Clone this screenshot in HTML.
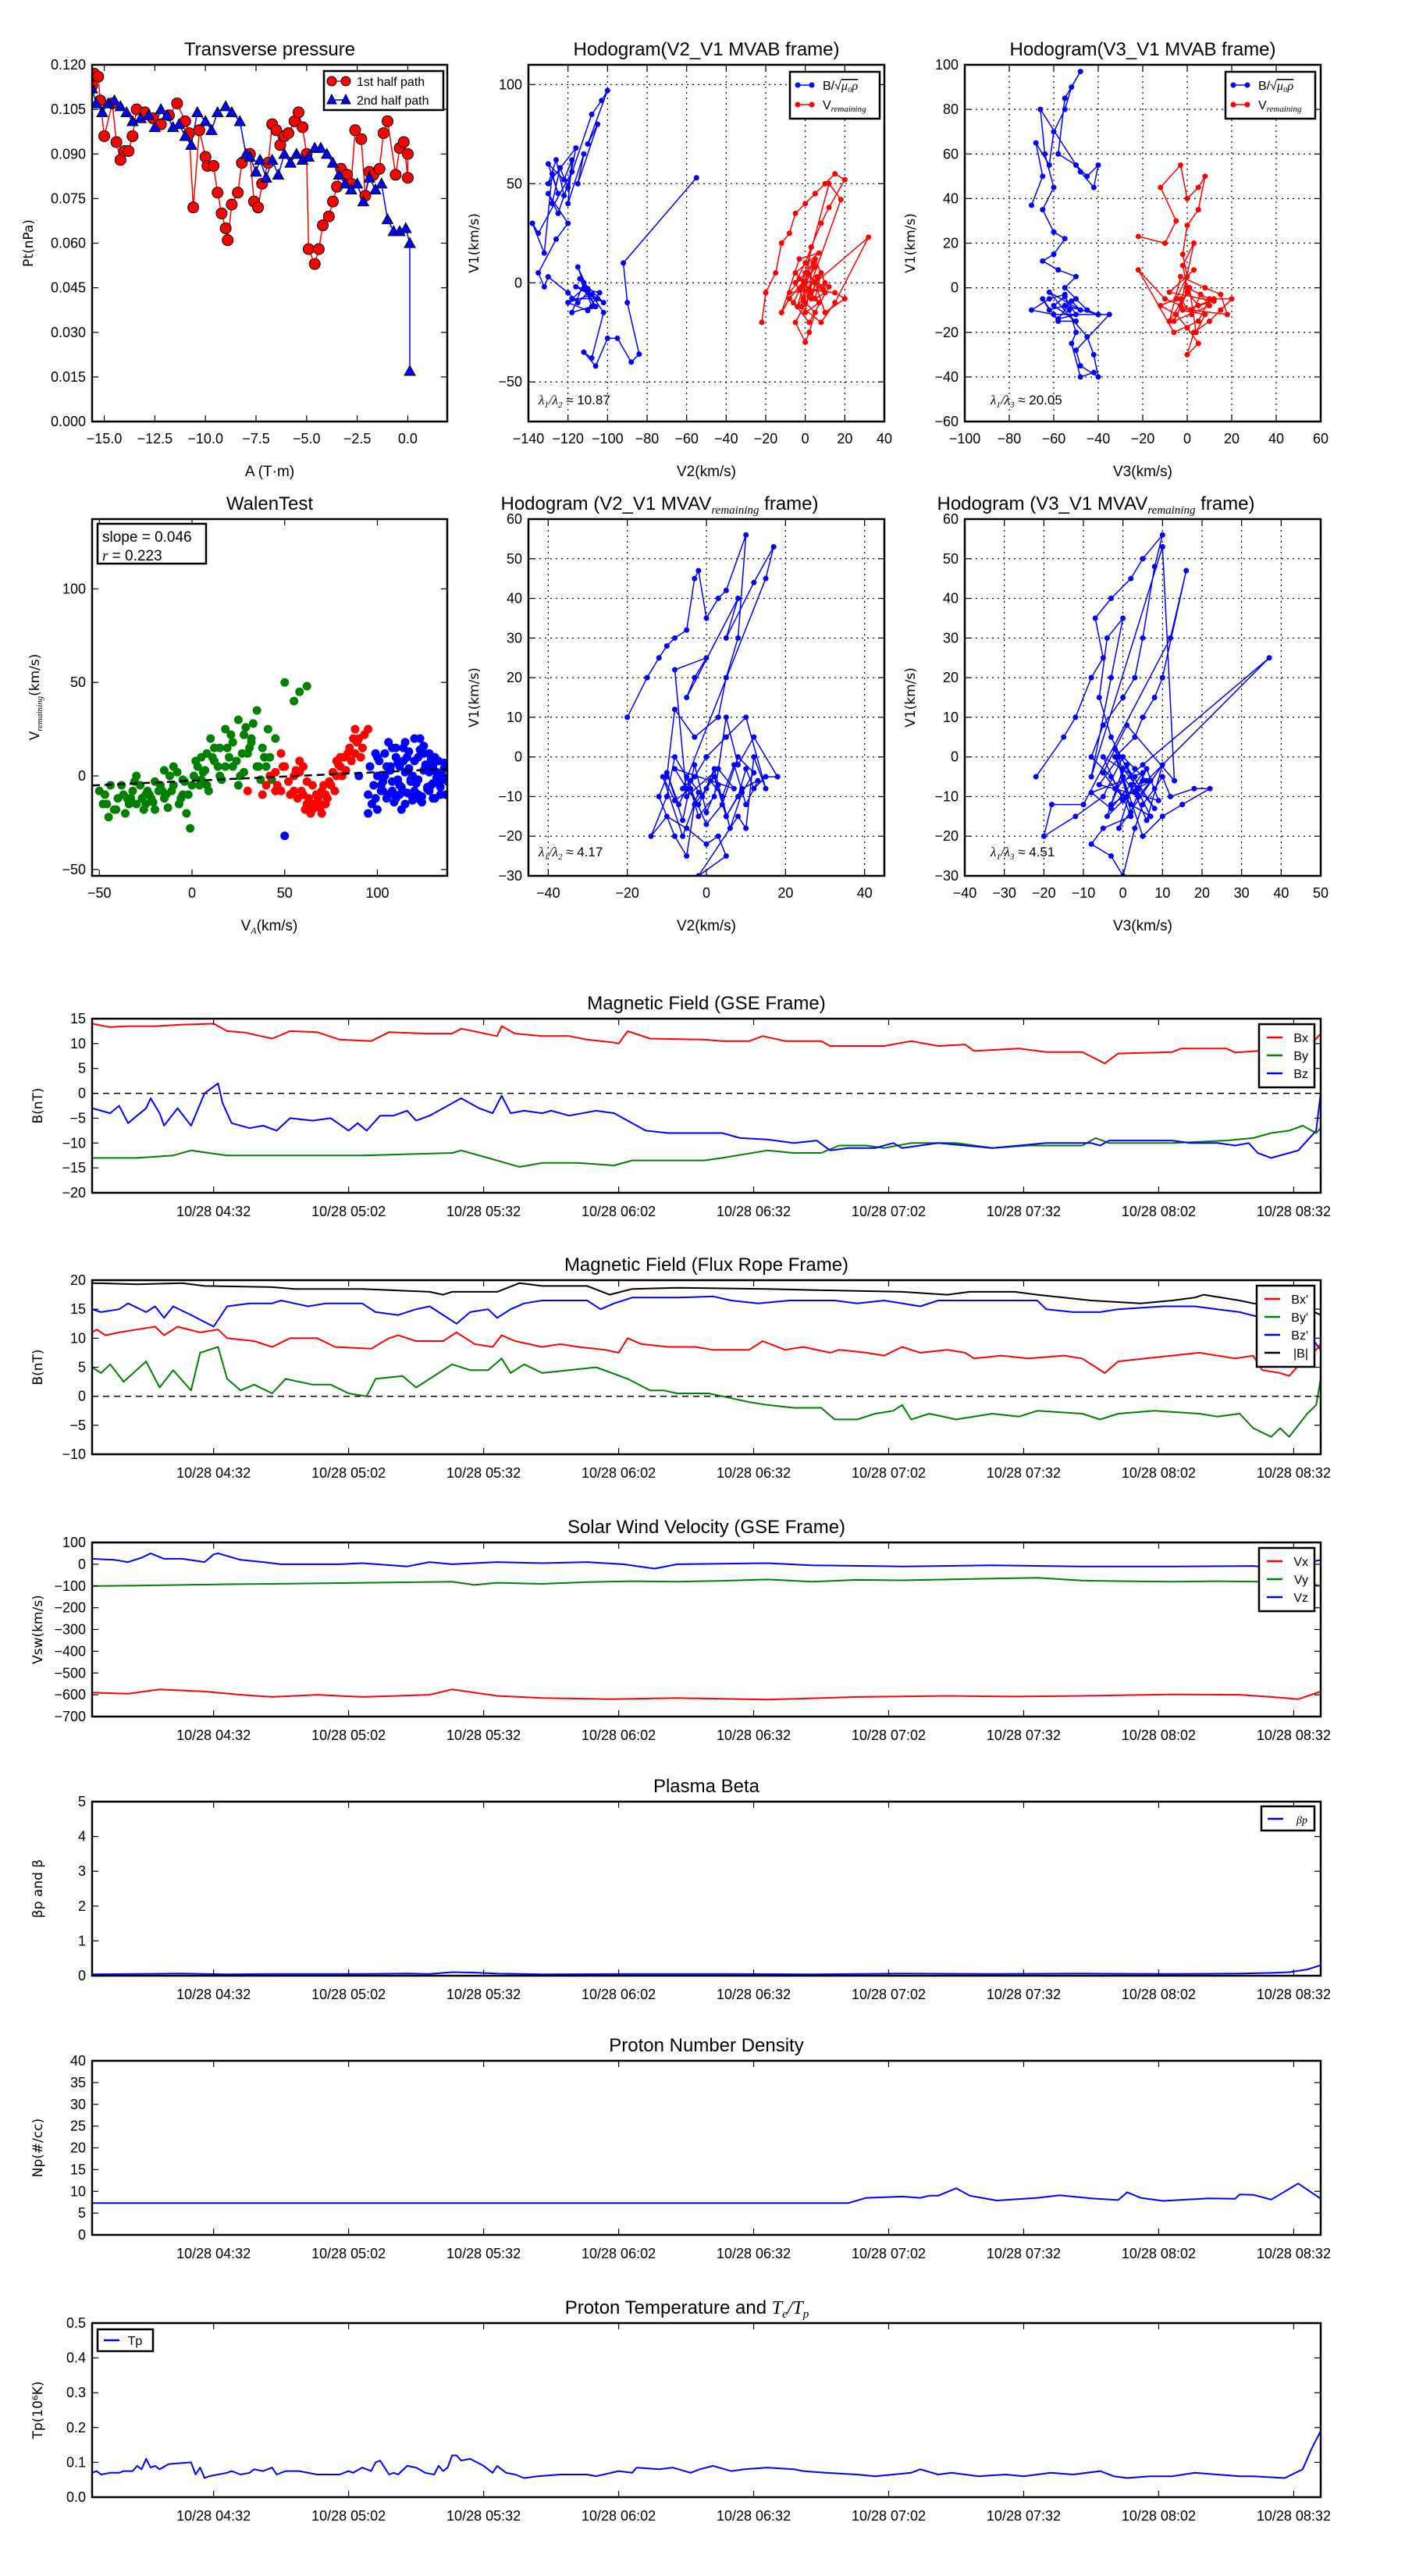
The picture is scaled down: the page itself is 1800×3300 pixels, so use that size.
<!DOCTYPE html>
<html><head><meta charset="utf-8"><title>Flux rope analysis</title>
<style>
html,body{margin:0;padding:0;background:#fff;}
svg{display:block;font-family:"Liberation Sans",sans-serif;}
</style></head>
<body>
<svg id="fig" width="1800" height="3300" viewBox="0 0 1800 3300" xmlns="http://www.w3.org/2000/svg">
<rect x="0" y="0" width="1800" height="3300" fill="#fff"/>
</svg>
<script>
// ---------- DATA ----------
const ptRedA=[-15.6,-15.5,-15.3,-15.2,-15.0,-14.6,-14.4,-14.2,-14.0,-13.8,-13.6,-13.4,-13.0,-12.6,-12.2,-11.8,-11.4,-11.0,-10.8,-10.6,-10.3,-10.0,-9.9,-9.6,-9.4,-9.2,-9.0,-8.9,-8.7,-8.4,-8.2,-7.8,-7.6,-7.4,-7.2,-6.9,-6.7,-6.5,-6.3,-6.1,-5.9,-5.6,-5.4,-5.2,-5.0,-4.9,-4.6,-4.4,-4.2,-3.9,-3.7,-3.5,-3.3,-3.0,-2.8,-2.6,-2.3,-2.1,-1.9,-1.7,-1.4,-1.2,-1.0,-0.6,-0.4,-0.2,0.0,0.0];
const ptRedP=[0.113,0.117,0.116,0.108,0.096,0.107,0.094,0.088,0.091,0.091,0.096,0.105,0.104,0.102,0.100,0.103,0.107,0.101,0.097,0.072,0.098,0.089,0.086,0.086,0.077,0.070,0.065,0.061,0.073,0.077,0.087,0.090,0.074,0.072,0.080,0.087,0.100,0.098,0.093,0.096,0.097,0.101,0.104,0.099,0.090,0.058,0.053,0.058,0.066,0.069,0.074,0.079,0.085,0.083,0.080,0.098,0.095,0.076,0.084,0.083,0.085,0.097,0.101,0.083,0.092,0.094,0.082,0.090];
const ptBlueA=[-15.6,-15.4,-15.1,-14.8,-14.5,-14.2,-13.9,-13.6,-13.2,-12.8,-12.5,-12.2,-11.9,-11.6,-11.3,-11.0,-10.7,-10.4,-10.0,-9.7,-9.4,-9.0,-8.7,-8.3,-8.0,-7.8,-7.5,-7.3,-7.0,-6.7,-6.4,-6.1,-5.8,-5.5,-5.2,-4.9,-4.6,-4.3,-4.0,-3.7,-3.4,-3.1,-2.8,-2.5,-2.2,-1.9,-1.6,-1.3,-1.0,-0.7,-0.4,-0.1,0.1,0.1];
const ptBlueP=[0.112,0.107,0.104,0.107,0.108,0.106,0.104,0.101,0.102,0.103,0.099,0.105,0.103,0.099,0.100,0.096,0.093,0.104,0.101,0.098,0.104,0.106,0.104,0.101,0.090,0.089,0.084,0.088,0.082,0.088,0.083,0.090,0.087,0.090,0.088,0.089,0.092,0.092,0.090,0.087,0.083,0.080,0.078,0.080,0.074,0.082,0.078,0.080,0.068,0.064,0.064,0.065,0.060,0.017];

const h1BV2=[-128,-124,-120,-116,-130,-126,-122,-118,-135,-138,-132,-128,-125,-130,-122,-118,-120,-112,-115,-105,-110,-100,-103,-108,-125,-130,-120,-126,-135,-132,-130,-120,-115,-110,-105,-118,-112,-106,-114,-108,-120,-110,-104,-116,-102,-112,-118,-108,-115,-110,-102,-108,-112,-106,-100,-95,-88,-84,-90,-92,-55];
const h1BV1=[40,58,48,68,50,62,44,56,25,30,15,55,45,60,52,62,40,65,50,80,70,97,92,85,35,45,30,22,5,-2,3,-5,-10,-5,-8,-8,-3,-12,2,-6,-10,-14,-5,-2,-10,0,-15,-12,8,-3,-15,-38,-35,-42,-28,-28,-40,-36,-10,10,53];
const h1RV2=[-22,-20,-15,-12,-8,-5,0,5,10,15,20,12,8,3,0,-5,0,5,2,0,-5,3,8,5,10,0,-3,15,20,10,5,32,15,8,-2,0,5,-8,-12,-3,7,-5,2,18,12,-2,3,6,-4,1,9,-8,4,0,7,-3,12,2,-6,5,10,-1,3];
const h1RV1=[-20,-5,5,20,25,35,40,45,50,55,52,38,30,18,10,0,-10,-15,-25,-30,-20,-5,5,-8,-5,5,-3,-5,-8,-15,0,23,-10,-20,-12,0,8,-8,-15,12,15,5,-3,42,50,-2,-8,3,-12,5,-3,-5,10,-15,-10,2,-2,-20,-10,12,0,-8,18];

const h2BV3=[-70,-65,-68,-62,-60,-55,-52,-48,-55,-58,-50,-45,-40,-42,-48,-66,-64,-60,-65,-60,-55,-60,-65,-58,-50,-55,-50,-45,-40,-55,-62,-65,-58,-50,-60,-55,-50,-58,-52,-48,-62,-45,-42,-40,-48,-50,-35,-60,-70,-62,-55,-53,-50,-52,-48,-42];
const h2BV1=[37,50,65,55,70,80,90,97,85,60,55,50,55,45,52,80,60,45,35,25,22,15,12,8,5,0,-5,-10,-12,-8,-10,-5,-15,-15,-8,-4,-12,-14,-6,-10,-2,-22,-30,-40,-35,-28,-12,-12,-10,-5,-3,-10,-20,-25,-40,-38];
const h2RV3=[-22,-10,-5,-12,-3,0,5,8,5,0,-2,0,-5,-12,-5,0,5,0,3,10,15,20,12,5,0,-8,-3,8,15,18,2,-10,-22,-6,5,10,0,-2,3,-3,-3,2,6,10,-6,1,4,8,-2,12,-8,3];
const h2RV1=[23,20,30,45,55,40,45,50,35,28,15,5,-5,-8,-12,-18,-25,-30,-20,-15,-10,-5,-5,-8,-2,-15,5,0,-3,-12,-10,-5,8,-20,-15,-5,0,10,20,-8,-5,-12,-3,-8,-15,0,-20,-12,-10,-6,-2,8];

const walGx=[-50,-48,-45,-40,-38,-35,-32,-30,-28,-25,-22,-20,-18,-15,-12,-10,-8,-5,-3,-1,0,3,5,8,10,12,15,18,20,22,25,28,30,32,35,38,40,42,45,50,55,58,62,-42,-30,-20,-10,5,15,25,35,28,18,8,-5,-15,-25,-47,-44,-41,-37,-34,-31,-27,-24,-21,-17,-14,-11,-7,-4,-2,1,4,7,9,11,14,16,19,21,24,27,29,31,33,36,39,41,43,-36,-26,-16,-6,2,12,22,32,-46,-33,-23,-13,6,26,37];
const walGy=[-8,-15,-22,-12,-5,-12,-8,-15,-5,-10,-12,-3,-8,-12,0,-5,2,-10,-20,-28,-5,5,-2,12,20,8,15,25,10,18,30,22,12,20,35,15,5,10,20,50,40,45,48,-18,0,-18,5,10,0,-5,5,2,5,-5,-2,3,-15,-10,-5,-18,-10,-15,-3,-12,-8,-14,-5,-10,-8,-15,-3,-10,0,-5,3,-8,10,5,-2,15,22,8,12,26,15,28,5,10,25,-2,-20,-18,-8,-12,8,15,5,18,-15,-12,-10,-17,2,0,-2];
const walRx=[40,45,48,50,52,55,58,60,62,65,68,70,72,75,78,80,82,85,88,90,92,95,88,60,57,65,70,48,55,78,83,30,38,45,42,46,49,53,56,59,61,63,64,66,67,69,71,73,74,76,77,79,81,84,86,87,89,91,93,58,62,68,72,80];
const walRy=[-5,2,-8,5,-3,0,8,-10,-15,-18,-12,-8,-15,-5,0,5,10,15,12,20,15,25,25,5,-12,-5,-20,12,-8,8,3,-8,-10,-8,0,-5,5,-10,3,-8,-18,-12,-20,-15,-10,-17,-5,-12,-3,2,-8,6,0,12,8,20,18,10,22,2,-3,-14,-10,10];
const walBx=[95,98,100,102,105,108,110,112,115,118,120,122,125,128,130,132,135,137,105,110,115,120,125,130,100,95,112,118,122,128,133,108,50,90,96,96,99,101,103,104,106,107,109,111,113,114,116,117,119,121,123,124,126,127,129,131,132,134,136,138,97,100,104,108,112,116,120,124,128,132,136,102,106,110,114,118,122,126,130,134,99,103,107,111,115,119,123,127,131,135,113,117,121,125,129];
const walBy=[-10,-5,0,-8,5,-3,10,-5,2,-10,8,-2,3,-8,5,-3,0,-10,-12,15,-15,20,12,-12,-18,-20,5,-2,10,2,8,-8,-32,0,5,5,-12,8,-3,12,-10,3,-14,7,-6,15,-9,4,-13,-4,14,-11,6,-7,9,-12,2,-6,4,-3,-15,10,0,15,-10,10,-8,-14,12,-1,7,-5,18,-12,8,-3,-10,5,-4,-10,12,-8,5,-2,18,0,20,-6,10,-2,-18,13,-12,16,-5];
const walSlope=0.046, walIntercept=-2.6;

const h4V2=[-20,-15,-12,-10,-8,-5,-3,-2,0,3,5,10,8,5,3,-3,-8,-10,-12,-8,-5,-3,0,2,5,8,10,12,15,18,12,8,5,2,-2,-5,-8,-10,-14,-10,-5,0,3,5,-2,8,10,12,15,10,5,0,-3,-6,15,17,12,5,8,-5,-3,0,-8,-5,3,7,-8,-5,-2,1,4,7,10,13,9,5,2,-1,-4,-7,-10,-6,-3,0,3,6,9,12,8,4,0,-4,-8,-11,-6,-2];
const h4V1=[10,20,25,28,30,32,45,47,35,40,42,56,30,20,10,5,12,-5,-10,-20,-25,-12,-8,-5,-15,-10,-3,-8,-5,-5,5,-2,10,-10,-15,-5,0,-10,-20,-15,-18,-22,-20,-25,-30,-15,-18,0,-8,10,5,0,-5,-8,45,53,44,30,40,15,20,25,22,-10,-3,-8,-3,-8,-12,-6,-10,-2,-12,-6,-8,-15,-3,-10,-6,-12,-4,-16,-2,-14,-7,-18,-9,-4,0,-12,-17,-8,-11,-5,-20,-9];
const h5V3=[-22,-15,-12,-8,-5,-7,-3,2,5,10,8,5,3,0,-5,-8,-3,0,2,-5,-8,-3,0,3,5,8,10,12,18,22,15,10,5,0,-2,3,5,8,10,16,12,-10,-18,-20,-12,-5,0,3,6,37,5,-2,2,7,-3,-6,-4,0,-3,-8,10,13,1,-5,-2,1,4,7,-3,0,3,6,9,-6,-1,2,5,-4,0,4,8,-2,1,5,-8,-3,2,6,10,-1,3,-5,0];
const h5V1=[-5,5,10,20,25,35,40,45,50,56,48,30,20,15,8,0,-5,-10,-15,-18,-22,-25,-30,-18,-12,-8,-5,-10,-8,-8,-12,-15,-20,-5,0,5,10,15,20,47,30,-12,-12,-20,-15,-10,0,-3,-6,25,-2,-8,-12,-15,5,15,30,35,20,-5,53,-6,8,-4,-8,-2,-10,-6,-12,-5,-9,-3,-11,-7,0,-14,-6,-15,-3,-8,-13,2,-10,-4,-9,-13,-7,-16,-2,-18,-5,0,-11];

// time series: minutes after 04:05
const timeTickLabels=["10/28 04:32","10/28 05:02","10/28 05:32","10/28 06:02","10/28 06:32","10/28 07:02","10/28 07:32","10/28 08:02","10/28 08:32"];
const timeTickMin=[27,57,87,117,147,177,207,237,267];
const bxT=[0,4,8,14,20,27,30,34,40,44,50,55,62,66,74,80,82,90,91,94,100,106,110,116,117,119,124,136,140,146,149,154,162,164,176,182,188,194,196,206,212,220,225,228,240,242,252,254,259,266,270,273];
const bxV=[14,13.3,13.5,13.5,13.8,14,12.5,12.2,11,12.5,12.3,10.8,10.5,12.3,12,12,13,11.5,13.5,12,11.5,11.5,10.8,10.2,10,12.5,11,10.8,10.5,10.5,11.5,10.5,10.5,9.5,9.5,10.5,9.5,9.8,8.5,9,8.3,8.3,6,8,8.3,9,9,8.2,8.5,8.8,9,12];
const byT=[0,10,18,22,30,60,80,82,88,95,100,108,116,120,136,140,150,156,162,166,172,176,182,192,200,208,220,223,226,240,252,258,262,266,269,272,273];
const byV=[-13,-13,-12.5,-11.5,-12.5,-12.5,-12,-11.5,-13,-14.8,-14,-14,-14.5,-13.5,-13.5,-13,-11.5,-12,-12,-10.5,-10.5,-11,-10,-10,-11,-10.5,-10.5,-9,-10,-10,-9.5,-9,-8,-7.5,-6.5,-8,-7];
const bzT=[0,4,6,8,12,13,15,16,19,22,25,28,29,31,35,38,41,44,49,53,57,59,61,64,67,70,72,75,78,82,86,89,91,93,96,100,102,106,112,116,119,123,128,132,140,144,150,156,161,164,168,174,178,180,188,194,200,206,212,222,224,226,240,244,250,254,257,259,262,266,268,272,273];
const bzV=[-3,-4,-2.5,-6,-3,-1,-4,-6.5,-3,-6.5,0,2,-2,-6,-7,-6.5,-7.5,-5,-5.5,-5,-7.5,-6,-7.5,-4.5,-4.5,-3.5,-5.5,-4.5,-3,-1,-3,-4,-0.5,-4,-3.5,-4,-3.5,-4.5,-3.5,-4,-5.5,-7.5,-8,-8,-8,-9,-9.3,-10,-9.5,-11.5,-11,-11,-10,-11,-10,-10.5,-11,-10.5,-10,-10,-10.5,-9.5,-9.5,-10,-10,-10.5,-10,-12,-13,-12,-11.5,-7.5,0];

const bmT=[0,10,20,25,40,45,60,75,78,80,90,95,100,110,115,120,130,150,160,180,190,195,205,210,222,233,240,245,247,255,258,268,273];
const bmV=[19.5,19.3,19.5,19,18.8,18.5,18.5,18,17.5,18,18,19.5,19,19,17.5,18.5,18.7,18.5,18.3,18,17.5,18,18,17.5,16.5,16,16.5,17,17.5,16.5,16,15.8,14];
const bzpT=[0,2,6,8,12,14,16,18,22,27,30,35,40,42,48,52,60,63,68,72,75,78,81,84,88,90,93,96,100,110,113,116,120,130,138,142,148,155,165,170,176,184,188,210,212,218,224,228,238,245,250,255,260,266,270,273];
const bzpV=[15,14.5,15,16,14.5,15.5,13.5,15.5,14,12,15.5,16,16,16.5,15.5,16,16,14.5,14,15,15.5,14,12.5,14.5,15,13.5,15,16,16.5,16.5,15,16,17,17,17.2,16.5,16,16.5,16.5,16,16.5,15.5,16.5,16.5,15,14.5,14.5,15,15.5,15.5,15,14.5,13.5,12,11,8];
const bxpT=[0,1,3,6,10,14,16,19,24,28,30,36,40,44,50,54,62,66,68,72,78,81,85,89,91,94,100,104,108,114,117,119,122,128,134,138,146,149,154,158,164,166,172,176,180,184,190,194,196,202,208,216,220,225,228,234,240,246,254,258,260,264,266,270,272,273];
const bxpV=[11,11.5,10.5,11,11.5,12,10.5,12,11,11.5,10,9.5,8.5,10,10,8.5,8.2,10,10.5,9.5,9.5,11,9,8.5,10.5,9.5,8.5,9,8.5,8,7.5,10,9,8.5,8.5,8,8,9.5,8,8.5,7.5,8,7.5,7,8.5,7.5,8,7.5,6.5,7,6.5,7,6.5,4,6,6.5,7,7.5,6.5,7,4.5,4,3.5,7,8,9];
const bypT=[0,2,4,7,12,15,18,22,24,28,30,33,36,40,43,49,53,57,61,63,69,72,80,84,88,91,93,96,100,106,112,119,124,127,130,137,140,146,150,156,162,165,170,174,178,180,182,186,192,200,206,210,220,224,228,236,246,250,255,258,262,264,266,270,272,273];
const bypV=[5,4,5.5,2.5,6,1.5,4.5,1,7.5,8.5,3,1,2,0.5,3,2,2,0.5,0,3,3.5,1.5,5.5,4.5,4.5,6.5,4,5.5,4,4.5,5,3,1,1,0.5,0.5,0,-1,-1.5,-2,-2,-4,-4,-3,-2.5,-1.5,-4,-3,-4,-3,-3.5,-2.5,-3,-4,-3,-2.5,-3,-3.5,-3,-5.5,-7,-5.5,-7,-3,-1.5,3];

const vzT=[0,5,8,11,13,16,20,25,27,28,33,38,42,55,60,70,75,80,90,100,110,118,125,130,150,160,180,200,220,240,258,264,273];
const vzV=[25,20,10,30,50,25,25,10,45,50,20,10,0,0,5,-10,10,0,10,5,10,0,-20,0,5,-5,-10,-5,-10,-10,-8,-20,20];
const vyT=[0,10,20,30,40,50,60,70,80,85,90,100,110,120,130,140,150,160,170,180,190,200,210,220,230,240,250,260,268,273];
const vyV=[-100,-98,-95,-92,-90,-88,-85,-83,-80,-95,-85,-90,-82,-78,-80,-76,-70,-80,-72,-74,-70,-66,-62,-75,-78,-80,-78,-80,-75,-100];
const vxT=[0,8,15,25,33,40,50,60,75,80,90,100,115,130,150,170,190,205,220,240,255,262,268,273];
const vxV=[-590,-595,-575,-585,-600,-610,-600,-610,-600,-575,-605,-615,-620,-615,-622,-610,-605,-608,-605,-598,-600,-610,-620,-585];

const betaT=[0,10,20,30,40,50,60,70,75,80,85,90,100,120,140,160,180,200,220,240,255,262,266,270,273];
const betaV=[0.04,0.05,0.06,0.04,0.05,0.05,0.05,0.06,0.05,0.1,0.09,0.06,0.04,0.05,0.05,0.04,0.06,0.05,0.06,0.05,0.06,0.08,0.1,0.18,0.3];
const npT=[0,168,172,180,184,186,188,192,195,201,210,215,222,228,230,233,238,248,254,255,258,262,268,273];
const npV=[7.3,7.3,8.5,8.8,8.5,9,9,10.7,9,7.9,8.5,9.1,8.4,8.0,9.8,8.5,7.8,8.4,8.3,9.3,9.2,8.1,11.8,8.3];
const tpT=[0,1,2,4,6,7,9,10,11,12,13,14,15,17,22,23,24,25,26,28,30,31,33,35,36,38,40,41,43,46,50,55,57,58,60,62,63,64,66,67,68,70,72,74,76,77,78,79,80,81,82,84,87,89,90,92,94,96,99,104,110,112,117,120,121,126,129,133,135,138,142,145,150,156,158,163,170,174,178,182,184,188,191,197,203,207,213,218,224,227,230,235,240,245,250,255,258,265,269,271,273];
const tpV=[0.07,0.075,0.065,0.07,0.07,0.075,0.075,0.09,0.08,0.11,0.085,0.09,0.08,0.095,0.1,0.065,0.085,0.055,0.06,0.065,0.07,0.075,0.065,0.07,0.08,0.075,0.085,0.065,0.075,0.075,0.065,0.065,0.075,0.07,0.085,0.075,0.1,0.105,0.065,0.07,0.065,0.09,0.085,0.07,0.065,0.09,0.075,0.085,0.12,0.12,0.105,0.11,0.09,0.07,0.09,0.07,0.065,0.055,0.06,0.065,0.065,0.06,0.075,0.07,0.085,0.08,0.085,0.07,0.08,0.09,0.075,0.08,0.085,0.08,0.075,0.07,0.065,0.06,0.065,0.07,0.08,0.065,0.07,0.06,0.065,0.06,0.07,0.065,0.075,0.06,0.055,0.06,0.06,0.07,0.065,0.06,0.06,0.055,0.08,0.14,0.19];

// ---------- DRAWING ----------
const NS='http://www.w3.org/2000/svg';
const fig=document.getElementById('fig');
function mk(tag,attrs,nm,parent){
  const el=document.createElementNS(NS,tag);
  for(const k in attrs) el.setAttribute(k,attrs[k]);
  
  
  (parent||fig).appendChild(el);
  return el;
}
function txt(s,x,y,opt,nm,parent){
  const o=Object.assign({'font-size':17,'text-anchor':'middle',fill:'#000'},opt||{});
  o.x=x;o.y=y;
  const t=mk('text',o,nm,parent);
  t.textContent=s;
  return t;
}
let clipId=0;
function axes(c){
  const g=mk('g',{},c.name);
  const sx=v=>c.x0+(v-c.xmin)/(c.xmax-c.xmin)*c.w;
  const sy=v=>c.y0+c.h-(v-c.ymin)/(c.ymax-c.ymin)*c.h;
  const id='clip'+(clipId++);
  const defs=mk('defs',{},c.name+'-defs',g);
  const cp=mk('clipPath',{id:id},c.name+'-clip',defs);
  mk('rect',{x:c.x0,y:c.y0,width:c.w,height:c.h},c.name+'-clip-rect',cp);
  if(c.grid){
    c.xticks.forEach(v=>mk('line',{x1:sx(v),x2:sx(v),y1:c.y0,y2:c.y0+c.h,stroke:'#000','stroke-width':1.2,'stroke-dasharray':'2,5'},'x-grid-line',g));
    c.yticks.forEach(v=>mk('line',{x1:c.x0,x2:c.x0+c.w,y1:sy(v),y2:sy(v),stroke:'#000','stroke-width':1.2,'stroke-dasharray':'2,5'},'y-grid-line',g));
  }
  const data=mk('g',{'clip-path':'url(#'+id+')'},c.name+'-series',g);
  const tk=mk('g',{},c.name+'-ticks',g);
  c.xticks.forEach((v,i)=>{
    const x=sx(v);
    mk('line',{x1:x,x2:x,y1:c.y0+c.h,y2:c.y0+c.h-8,stroke:'#000','stroke-width':1.2},'x-tick',tk);
    mk('line',{x1:x,x2:x,y1:c.y0,y2:c.y0+8,stroke:'#000','stroke-width':1.2},'x-tick-top',tk);
    const lab=c.xlabels?c.xlabels[i]:(c.xfmt?c.xfmt(v):String(v)).replace('-','\u2212');
    txt(lab,x,c.y0+c.h+(c.xlabOff||28),{'font-size':c.tfs||18},'x-tick-label',tk);
  });
  c.yticks.forEach(v=>{
    const y=sy(v);
    mk('line',{x1:c.x0,x2:c.x0+8,y1:y,y2:y,stroke:'#000','stroke-width':1.2},'y-tick',tk);
    mk('line',{x1:c.x0+c.w,x2:c.x0+c.w-8,y1:y,y2:y,stroke:'#000','stroke-width':1.2},'y-tick-right',tk);
    const lab=(c.yfmt?c.yfmt(v):String(v)).replace('-','\u2212');
    txt(lab,c.x0-8,y+6,{'font-size':c.tfs||18,'text-anchor':'end'},'y-tick-label',tk);
  });
  mk('rect',{x:c.x0,y:c.y0,width:c.w,height:c.h,fill:'none',stroke:'#000','stroke-width':2.5},c.name+'-frame',g);
  if(c.title) txt(c.title,c.x0+c.w/2,c.y0-12,{'font-size':24},c.name+'-title',g);
  if(c.ylabel) txt(c.ylabel,0,0,{'font-size':17,'font-family':'DejaVu Sans, sans-serif',transform:'translate('+c.ylx+','+(c.y0+c.h/2)+') rotate(-90)'},c.name+'-y-axis-title',g);
  if(c.xlabel) txt(c.xlabel,c.x0+c.w/2,c.y0+c.h+70,{'font-size':19},c.name+'-x-axis-title',g);
  return {sx,sy,g,data};
}
function polyline(ax,xs,ys,color,w,nm,dash){
  const pts=xs.map((x,i)=>ax.sx(x).toFixed(1)+','+ax.sy(ys[i]).toFixed(1)).join(' ');
  const o={points:pts,fill:'none',stroke:color,'stroke-width':w,'stroke-linejoin':'round'};
  if(dash) o['stroke-dasharray']=dash;
  return mk('polyline',o,nm,ax.data);
}
function dots(ax,xs,ys,color,r,nm,edge){
  xs.forEach((x,i)=>{
    const o={cx:ax.sx(x),cy:ax.sy(ys[i]),r:r,fill:color};
    if(edge){o.stroke='#000';o['stroke-width']=1;}
    mk('circle',o,nm,ax.data);
  });
}
function tris(ax,xs,ys,color,s,nm){
  xs.forEach((x,i)=>{
    const cx=ax.sx(x),cy=ax.sy(ys[i]);
    mk('polygon',{points:`${cx},${cy-s} ${cx-s},${cy+s*0.8} ${cx+s},${cy+s*0.8}`,fill:color,stroke:'#000','stroke-width':1},nm,ax.data);
  });
}
function legendBox(x,y,w,h,nm){
  return mk('rect',{x:x,y:y,width:w,height:h,fill:'#fff',stroke:'#000','stroke-width':2.5},nm);
}
const range=(a,b,s)=>{const r=[];for(let v=a;v<=b+1e-9;v+=s)r.push(+v.toFixed(6));return r;};

// ---- Transverse pressure ----
const a1=axes({name:'transverse-pressure-chart',x0:118,y0:83,w:455,h:457,xmin:-15.6,xmax:1.95,ymin:0,ymax:0.12,
  xticks:range(-15,0,2.5),yticks:range(0,0.12,0.015),xfmt:v=>v.toFixed(1),yfmt:v=>v.toFixed(3),
  title:'Transverse pressure',ylabel:'Pt(nPa)',ylx:42,xlabel:'A (T·m)'});
polyline(a1,ptRedA,ptRedP,'#f00',1.5,'first-half-line');
polyline(a1,ptBlueA,ptBlueP,'#00f',1.5,'second-half-line');
dots(a1,ptRedA,ptRedP,'#f00',7,'first-half-point',true);
tris(a1,ptBlueA,ptBlueP,'#00f',7,'second-half-point');
legendBox(415,91,153,50,'pressure-legend');
mk('line',{x1:422,x2:446,y1:104,y2:104,stroke:'#f00','stroke-width':1.5},'legend-first-line');
mk('circle',{cx:425,cy:104,r:6,fill:'#f00',stroke:'#000'},'legend-first-marker');
mk('circle',{cx:443,cy:104,r:6,fill:'#f00',stroke:'#000'},'legend-first-marker');
txt('1st half path',457,110,{'font-size':16,'text-anchor':'start'},'legend-first-label');
mk('line',{x1:422,x2:446,y1:128,y2:128,stroke:'#00f','stroke-width':1.5},'legend-second-line');
mk('polygon',{points:'425,121 419,133 431,133',fill:'#00f',stroke:'#000'},'legend-second-marker');
mk('polygon',{points:'443,121 437,133 449,133',fill:'#00f',stroke:'#000'},'legend-second-marker');
txt('2nd half path',457,134,{'font-size':16,'text-anchor':'start'},'legend-second-label');

function hodoLegend(x,y,nm){
  legendBox(x,y,115,60,nm);
  mk('line',{x1:x+8,x2:x+30,y1:y+17,y2:y+17,stroke:'#00f','stroke-width':1.5},'legend-b-line');
  mk('circle',{cx:x+10,cy:y+17,r:3.5,fill:'#00f'},'legend-b-marker');
  mk('circle',{cx:x+28,cy:y+17,r:3.5,fill:'#00f'},'legend-b-marker');
  const t1=txt('B/\u221A',x+42,y+23,{'font-size':16,'text-anchor':'start'},'legend-b-label');
  const s=mk('tspan',{'font-style':'italic','font-family':'Liberation Serif, serif','text-decoration':'overline'},'legend-b-sub',t1);
  s.textContent='\u03BC\u2080\u03C1';
  mk('line',{x1:x+8,x2:x+30,y1:y+42,y2:y+42,stroke:'#f00','stroke-width':1.5},'legend-v-line');
  mk('circle',{cx:x+10,cy:y+42,r:3.5,fill:'#f00'},'legend-v-marker');
  mk('circle',{cx:x+28,cy:y+42,r:3.5,fill:'#f00'},'legend-v-marker');
  const t2=txt('V',x+42,y+48,{'font-size':16,'text-anchor':'start'},'legend-v-label');
  const s2=mk('tspan',{'font-style':'italic','font-family':'Liberation Serif, serif','font-size':11,dy:3},'legend-v-sub',t2);
  s2.textContent='remaining';
}
function lambdaText(x,y,sub,val,nm){
  const t=txt('\u03BB',x,y,{'font-size':17,'text-anchor':'start','font-family':'Liberation Serif, serif','font-style':'italic'},nm);
  const a=mk('tspan',{'font-size':11,dy:4},nm+'-sub1',t);a.textContent='1';
  const b=mk('tspan',{dy:-4},nm+'-slash',t);b.textContent='/\u03BB';
  const c=mk('tspan',{'font-size':11,dy:4},nm+'-sub2',t);c.textContent=sub;
  const d=mk('tspan',{dy:-4,'font-style':'normal','font-family':'Liberation Sans, sans-serif'},nm+'-value',t);d.textContent=' \u2248 '+val;
}

// ---- Hodogram V2_V1 MVAB ----
const a2=axes({name:'hodogram-v2-v1-mvab',x0:677,y0:83,w:456,h:457,xmin:-140,xmax:40,ymin:-70,ymax:110,
  xticks:range(-140,40,20),yticks:[-50,0,50,100],grid:true,title:'Hodogram(V2_V1 MVAB frame)',ylabel:'V1(km/s)',ylx:613,xlabel:'V2(km/s)'});
polyline(a2,h1BV2,h1BV1,'#00f',1.5,'b-hodogram-line');dots(a2,h1BV2,h1BV1,'#00f',3.5,'b-hodogram-point');
polyline(a2,h1RV2,h1RV1,'#f00',1.5,'v-hodogram-line');dots(a2,h1RV2,h1RV1,'#f00',3.5,'v-hodogram-point');
hodoLegend(1012,92,'hodogram1-legend');
lambdaText(690,518,'2','10.87','eigen-ratio-1');

// ---- Hodogram V3_V1 MVAB ----
const a3=axes({name:'hodogram-v3-v1-mvab',x0:1236,y0:83,w:456,h:457,xmin:-100,xmax:60,ymin:-60,ymax:100,
  xticks:range(-100,60,20),yticks:range(-60,100,20),grid:true,title:'Hodogram(V3_V1 MVAB frame)',ylabel:'V1(km/s)',ylx:1172,xlabel:'V3(km/s)'});
polyline(a3,h2BV3,h2BV1,'#00f',1.5,'b-hodogram-line');dots(a3,h2BV3,h2BV1,'#00f',3.5,'b-hodogram-point');
polyline(a3,h2RV3,h2RV1,'#f00',1.5,'v-hodogram-line');dots(a3,h2RV3,h2RV1,'#f00',3.5,'v-hodogram-point');
hodoLegend(1570,92,'hodogram2-legend');
lambdaText(1269,518,'3','20.05','eigen-ratio-2');

// ---- Walen test ----
const a4=axes({name:'walen-test-chart',x0:118,y0:665,w:455,h:457,xmin:-53.9,xmax:137.7,ymin:-53.4,ymax:137.3,
  xticks:[-50,0,50,100],yticks:[-50,0,50,100],title:'WalenTest'});
dots(a4,walGx,walGy,'#008000',5.5,'walen-point-green');
dots(a4,walRx,walRy,'#f00',5.5,'walen-point-red');
dots(a4,walBx,walBy,'#00f',5.5,'walen-point-blue');
const fitX=[-53.9,137.7];
polyline(a4,fitX,fitX.map(x=>walSlope*x+walIntercept),'#000',2.5,'walen-fit-line','10,6');
legendBox(125,671,139,51,'walen-stats-box');
txt('slope = 0.046',131,694,{'font-size':19,'text-anchor':'start'},'walen-slope-text');
const rt=txt('r',131,718,{'font-size':19,'text-anchor':'start','font-style':'italic','font-family':'Liberation Serif, serif'},'walen-r-text');
const rt2=mk('tspan',{'font-style':'normal','font-family':'Liberation Sans, sans-serif'},'walen-r-value',rt);rt2.textContent=' = 0.223';
const wy=txt('V',0,0,{'font-size':17,'font-family':'DejaVu Sans, sans-serif',transform:'translate(50,893) rotate(-90)'},'walen-y-axis-title');
const wy2=mk('tspan',{'font-size':11,'font-style':'italic','font-family':'Liberation Serif, serif',dy:4},'walen-y-axis-sub',wy);wy2.textContent='remaining';
const wy3=mk('tspan',{dy:-4},'walen-y-axis-unit',wy);wy3.textContent='(km/s)';
const wx=txt('V',345,1192,{'font-size':19},'walen-x-axis-title');
const wx2=mk('tspan',{'font-size':12,'font-style':'italic','font-family':'Liberation Serif, serif',dy:4},'walen-x-axis-sub',wx);wx2.textContent='A';
const wx3=mk('tspan',{dy:-4},'walen-x-axis-unit',wx);wx3.textContent='(km/s)';

// ---- Hodogram MVAV V2_V1 ----
const a5=axes({name:'hodogram-v2-v1-mvav',x0:677,y0:665,w:456,h:457,xmin:-45,xmax:45,ymin:-30,ymax:60,
  xticks:range(-40,40,20),yticks:range(-30,60,10),grid:true,title:'',ylabel:'V1(km/s)',ylx:613,xlabel:'V2(km/s)'});
polyline(a5,h4V2,h4V1,'#00f',1.5,'mvav-hodogram-line');dots(a5,h4V2,h4V1,'#00f',3.5,'mvav-hodogram-point');
lambdaText(690,1097,'2','4.17','eigen-ratio-3');
// ---- Hodogram MVAV V3_V1 ----
const a6=axes({name:'hodogram-v3-v1-mvav',x0:1236,y0:665,w:456,h:457,xmin:-40,xmax:50,ymin:-30,ymax:60,
  xticks:range(-40,50,10),yticks:range(-30,60,10),grid:true,title:'',ylabel:'V1(km/s)',ylx:1172,xlabel:'V3(km/s)'});
polyline(a6,h5V3,h5V1,'#00f',1.5,'mvav-hodogram-line');dots(a6,h5V3,h5V1,'#00f',3.5,'mvav-hodogram-point');
lambdaText(1269,1097,'3','4.51','eigen-ratio-4');
[[905,'V2'],[1464,'V3']].forEach(([cx,v])=>{
  const t=txt('Hodogram ('+v+'_V1 MVAV',cx-60,653,{'font-size':24},'mvav-title');
  const s=mk('tspan',{'font-size':15,'font-style':'italic','font-family':'Liberation Serif, serif',dy:5},'mvav-title-sub',t);s.textContent='remaining';
  const e=mk('tspan',{dy:-5},'mvav-title-end',t);e.textContent=' frame)';
});

// ---- Time series ----
function ts(name,y0,ymin,ymax,yticks,title,ylabel,yfmt){
  return axes({name:name,x0:118,y0:y0,w:1574,h:223,xmin:0,xmax:273,ymin:ymin,ymax:ymax,xticks:timeTickMin,xlabels:timeTickLabels,
    yticks:yticks,yfmt:yfmt,title:title,ylabel:ylabel,ylx:54,xlabOff:30});
}
function tsLegend(x,y,w,items,nm){
  legendBox(x,y,w,items.length*23+12,nm);
  items.forEach(([lab,col],i)=>{
    mk('line',{x1:x+10,x2:x+30,y1:y+17+i*23,y2:y+17+i*23,stroke:col,'stroke-width':2.5},'legend-line');
    txt(lab,x+w-8,y+23+i*23,{'font-size':16,'text-anchor':'end'},'legend-label');
  });
}
const zeroX=[0,273],zeroY=[0,0];
const t1=ts('magnetic-field-gse-chart',1305,-20,15,range(-20,15,5),'Magnetic Field (GSE Frame)','B(nT)');
polyline(t1,zeroX,zeroY,'#000',1.5,'zero-line','8,6');
polyline(t1,bxT,bxV,'#f00',2,'bx-line');polyline(t1,byT,byV,'#008000',2,'by-line');polyline(t1,bzT,bzV,'#00f',2,'bz-line');
tsLegend(1613,1312,71,[['Bx','#f00'],['By','#008000'],['Bz','#00f']],'gse-legend');

const t2=ts('magnetic-field-flux-rope-chart',1640,-10,20,range(-10,20,5),'Magnetic Field (Flux Rope Frame)','B(nT)');
polyline(t2,zeroX,zeroY,'#000',1.5,'zero-line','8,6');
polyline(t2,bmT,bmV,'#000',2,'bmag-line');polyline(t2,bzpT,bzpV,'#00f',2,'bz-prime-line');
polyline(t2,bxpT,bxpV,'#f00',2,'bx-prime-line');polyline(t2,bypT,bypV,'#008000',2,'by-prime-line');
tsLegend(1610,1647,74,[["Bx'",'#f00'],["By'",'#008000'],["Bz'",'#00f'],['|B|','#000']],'flux-rope-legend');

const t3=ts('solar-wind-velocity-chart',1976,-700,100,range(-700,100,100),'Solar Wind Velocity (GSE Frame)','Vsw(km/s)');
polyline(t3,vxT,vxV,'#f00',2,'vx-line');polyline(t3,vyT,vyV,'#008000',2,'vy-line');polyline(t3,vzT,vzV,'#00f',2,'vz-line');
tsLegend(1613,1983,71,[['Vx','#f00'],['Vy','#008000'],['Vz','#00f']],'velocity-legend');

const t4=ts('plasma-beta-chart',2308,0,5,range(0,5,1),'Plasma Beta','\u03B2p and \u03B2');
polyline(t4,betaT,betaV,'#00f',2,'beta-line');
legendBox(1616,2314,68,31,'beta-legend');
mk('line',{x1:1624,x2:1644,y1:2330,y2:2330,stroke:'#00f','stroke-width':2.5},'legend-line');
txt('\u03B2p',1668,2336,{'font-size':14,'font-style':'italic','font-family':'Liberation Serif, serif'},'legend-label');

const t5=ts('proton-density-chart',2640,0,40,range(0,40,5),'Proton Number Density','Np(#/cc)');
polyline(t5,npT,npV,'#00f',2,'density-line');

const t6=ts('proton-temperature-chart',2976,0,0.5,range(0,0.5,0.1),'','Tp(10\u2076K)',v=>v.toFixed(1));
polyline(t6,tpT,tpV,'#00f',2,'temperature-line');
legendBox(125,2984,71,28,'temperature-legend');
mk('line',{x1:133,x2:153,y1:2998,y2:2998,stroke:'#00f','stroke-width':2.5},'legend-line');
txt('Tp',173,3004,{'font-size':16},'legend-label');
const tt=txt('Proton Temperature and ',880,2964,{'font-size':24},'temperature-title');
const tt2=mk('tspan',{'font-style':'italic','font-family':'Liberation Serif, serif'},'temperature-title-math',tt);tt2.textContent='T';
const tt3=mk('tspan',{'font-style':'italic','font-family':'Liberation Serif, serif','font-size':15,dy:5},'temperature-title-sub',tt);tt3.textContent='e';
const tt4=mk('tspan',{'font-style':'italic','font-family':'Liberation Serif, serif',dy:-5},'temperature-title-math2',tt);tt4.textContent='/T';
const tt5=mk('tspan',{'font-style':'italic','font-family':'Liberation Serif, serif','font-size':15,dy:5},'temperature-title-sub2',tt);tt5.textContent='p';
</script>
</body></html>
